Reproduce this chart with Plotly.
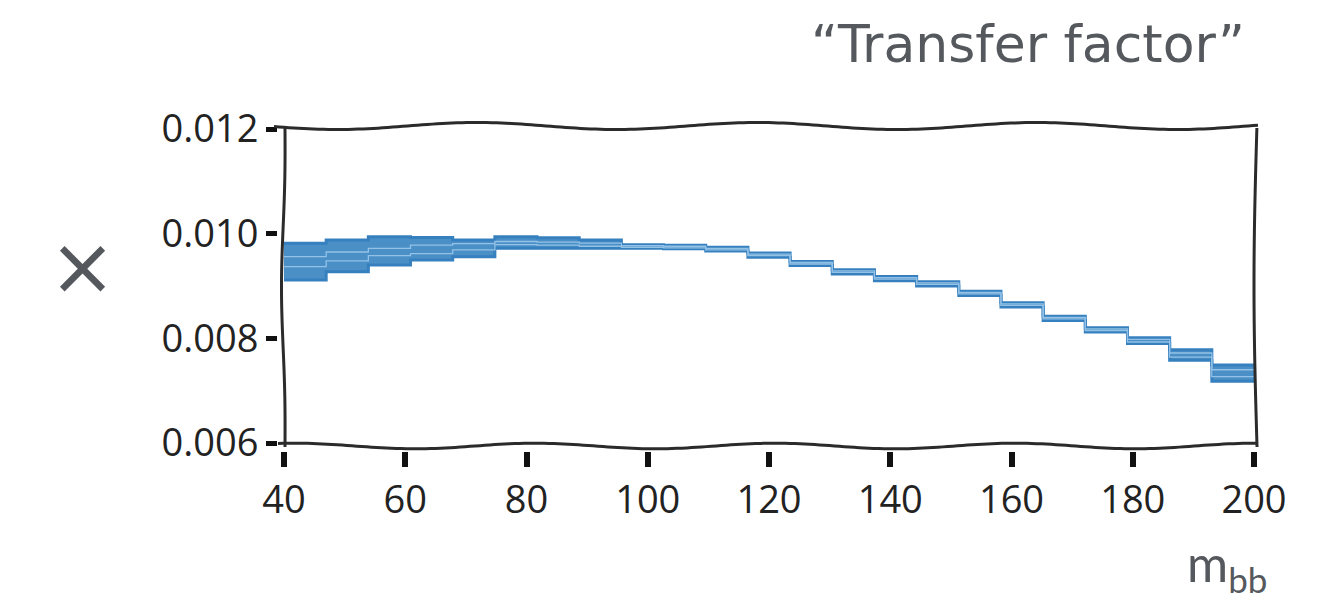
import numpy as np
import plotly.graph_objects as go

# ---------------- data ----------------
bin_edges = list(np.linspace(40, 200, 24))  # 23 bins
band_hi = [0.009815, 0.009878, 0.009941, 0.009929, 0.009878, 0.00994, 0.00992, 0.00988,
           0.00979, 0.00978, 0.00974, 0.00963, 0.00947, 0.00931, 0.00918, 0.00908,
           0.00890, 0.00868, 0.00842, 0.00820, 0.00801, 0.00778, 0.00749]
band_lo = [0.009113, 0.009272, 0.009400, 0.009495, 0.009558, 0.00972, 0.00972, 0.00972,
           0.00972, 0.00971, 0.00967, 0.00955, 0.00939, 0.00923, 0.00910, 0.00900,
           0.00882, 0.00860, 0.00834, 0.00812, 0.00790, 0.00758, 0.00718]
inner_a = [0.00956, 0.00965, 0.00972, 0.00978, 0.00981, 0.00985, 0.00984, 0.00982,
           0.00977, 0.00976, 0.00972, 0.00961, 0.00945, 0.00929, 0.00916, 0.00906,
           0.00888, 0.00866, 0.00840, 0.00818, 0.00798, 0.00772, 0.00740]
inner_b = [0.00937, 0.00948, 0.00958, 0.00962, 0.00969, 0.00979, 0.00978, 0.00976,
           0.00974, 0.00973, 0.00969, 0.00958, 0.00942, 0.00926, 0.00913, 0.00903,
           0.00885, 0.00863, 0.00837, 0.00815, 0.00793, 0.00764, 0.00727]
x_ticks = [40, 60, 80, 100, 120, 140, 160, 180, 200]
y_ticks = [0.006, 0.008, 0.010, 0.012]
y_tick_text = ["0.006", "0.008", "0.010", "0.012"]

# ---------------- layout geometry (pixels) ----------------
W, H = 1342, 598
ML, MR, MT, MB = 270, 80, 110, 130
PW, PH = W - ML - MR, H - MT - MB


def px(x):
    return (x - ML) / PW


def py(y):
    return (H - MB - y) / PH


def step(vals):
    return list(vals) + [vals[-1]]


BLUE = "#4a8fc6"
EDGE = "#3680bf"
LIGHT = "#93c2e6"

fig = go.Figure()
fig.add_trace(go.Scatter(x=bin_edges, y=step(band_lo), mode="lines", line_shape="hv",
                         line=dict(color=EDGE, width=3), showlegend=False, hoverinfo="skip"))
fig.add_trace(go.Scatter(x=bin_edges, y=step(band_hi), mode="lines", line_shape="hv",
                         line=dict(color=EDGE, width=3), fill="tonexty", fillcolor=BLUE,
                         showlegend=False, hoverinfo="skip"))
for arr in (inner_a, inner_b):
    fig.add_trace(go.Scatter(x=bin_edges, y=step(arr), mode="lines", line_shape="hv",
                             line=dict(color=LIGHT, width=1.3), showlegend=False, hoverinfo="skip"))

# ---------------- hand-drawn frame ----------------
def path_from(points):
    return "M " + " L ".join(f"{px(x):.5f},{py(y):.5f}" for x, y in points)

xs = np.linspace(274, 1258, 200)
top = [(x, 126 - 3.5 * np.cos(2 * np.pi * (x - 477) / 280)) for x in xs]
xs2 = np.linspace(278, 1258, 200)
bot = [(x, 446 - 2.8 * np.cos(2 * np.pi * (x - 775) / 240)) for x in xs2]
ys = np.linspace(128, 447, 120)
left = [(285 - 2.5 * np.sin(np.pi * (y - 128) / 319) + 1.0 * np.sin(3 * np.pi * (y - 128) / 319), y) for y in ys]
right = [(1257 - 3.0 * np.sin(np.pi * (y - 124) / 322), y) for y in ys]

shapes = []
for pts in (top, bot, left, right):
    shapes.append(dict(type="path", xref="paper", yref="paper", path=path_from(pts),
                       line=dict(color="#2b2b2b", width=3)))

TXT = "#55595e"
annotations = [
    dict(text="\u201cTransfer factor\u201d", x=px(1247), y=py(44), xref="paper", yref="paper",
         xanchor="right", yanchor="middle", showarrow=False,
         font=dict(family="DejaVu Sans, sans-serif", size=52, color=TXT)),
    dict(text="\u00d7", x=px(82), y=py(266), xref="paper", yref="paper",
         xanchor="center", yanchor="middle", showarrow=False,
         font=dict(family="DejaVu Sans, sans-serif", size=80, color=TXT)),
    dict(text="m<sub>bb</sub>", x=px(1185), y=py(566), xref="paper", yref="paper",
         xanchor="left", yanchor="middle", showarrow=False,
         font=dict(family="Lato, Open Sans, sans-serif", size=50, color=TXT)),
]

fig.update_layout(
    width=W, height=H,
    margin=dict(l=ML, r=MR, t=MT, b=MB),
    paper_bgcolor="white", plot_bgcolor="rgba(0,0,0,0)",
    shapes=shapes, annotations=annotations,
    xaxis=dict(domain=[px(284), px(1254)], range=[40, 200], anchor="free", position=py(451),
               tickvals=x_ticks, ticks="outside", ticklen=15, tickwidth=6, tickcolor="#111",
               showline=False, showgrid=False, zeroline=False,
               tickfont=dict(family="Open Sans, sans-serif", size=38, color="#222")),
    yaxis=dict(domain=[py(443), py(129)], range=[0.006, 0.012], anchor="free", position=px(277),
               tickvals=y_ticks, ticktext=y_tick_text, ticks="outside", ticklen=11, tickwidth=5,
               tickcolor="#111", showline=False, showgrid=False, zeroline=False,
               tickfont=dict(family="Open Sans, sans-serif", size=38, color="#222")),
)

fig.write_html("out.html")
